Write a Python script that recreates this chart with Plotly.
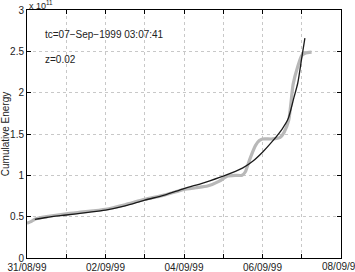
import datetime as dt
import plotly.graph_objects as go

base = dt.datetime(1999, 8, 31)

# observed cumulative energy (gray), days since 31/08/99 00:00
obs_days = [0.0, 0.1, 0.2, 0.5, 1.0, 1.5, 2.0, 2.5, 3.0, 3.5, 4.0, 4.3, 4.6, 4.9, 5.1, 5.3,
            5.48, 5.56, 5.68, 5.82, 5.92, 6.0, 6.25, 6.45, 6.55, 6.67, 6.78, 6.9, 7.0, 7.1, 7.25]
obs_vals = [0.42, 0.44, 0.47, 0.50, 0.535, 0.56, 0.59, 0.645, 0.71, 0.76, 0.83, 0.85, 0.87, 0.93, 0.99, 1.0,
            1.0, 1.04, 1.2, 1.36, 1.42, 1.44, 1.44, 1.46, 1.52, 1.67, 2.1, 2.32, 2.45, 2.48, 2.49]

# fitted power law curve (black)
fit_days = [0.2, 0.5, 1.0, 1.5, 2.0, 2.5, 3.0, 3.5, 4.0, 4.5, 5.0, 5.5, 5.75, 6.0, 6.25,
            6.5, 6.65, 6.8, 6.9, 7.0, 7.08]
fit_vals = [0.466, 0.49, 0.52, 0.55, 0.58, 0.63, 0.70, 0.76, 0.84, 0.91, 0.99, 1.09, 1.17, 1.28, 1.41,
            1.56, 1.68, 1.94, 2.12, 2.42, 2.66]

tick_days = list(range(0, 9))
tick_labels = ["31/08/99", "", "02/09/99", "", "04/09/99", "", "06/09/99", "", "08/09/99"]
y_ticks = [0, 0.5, 1, 1.5, 2, 2.5, 3]
y_labels = ["0", "0.5", "1", "1.5", "2", "2.5", "3"]

def to_dt(ds):
    return [base + dt.timedelta(days=d) for d in ds]

fig = go.Figure()
fig.add_trace(go.Scatter(x=to_dt(obs_days), y=obs_vals, mode="lines",
                         line=dict(color="#b8b8b8", width=3.2, shape="spline", smoothing=0.5),
                         showlegend=False))
fig.add_trace(go.Scatter(x=to_dt(fit_days), y=fit_vals, mode="lines",
                         line=dict(color="#1a1a1a", width=1.3, shape="spline", smoothing=0.8),
                         showlegend=False))

font = dict(family="Liberation Sans, Arial, sans-serif", size=10, color="#222")

# last x tick label drawn as annotation (it runs past the page edge, as in the reference)
shown_labels = tick_labels[:-1] + [""]

fig.update_layout(
    width=355, height=272,
    margin=dict(l=27, r=14, t=10, b=14),
    paper_bgcolor="white", plot_bgcolor="white",
    font=font,
    xaxis=dict(range=[base, base + dt.timedelta(days=8)],
               tickvals=to_dt(tick_days), ticktext=shown_labels,
               showgrid=True, gridcolor="#c8c8c8", griddash="dot", gridwidth=1,
               showline=True, linecolor="black", linewidth=1, mirror="ticks",
               ticks="inside", ticklen=4, tickcolor="black",
               zeroline=False, tickfont=font, automargin=False),
    yaxis=dict(range=[0, 3], tickvals=y_ticks, ticktext=y_labels,
               showgrid=True, gridcolor="#c8c8c8", griddash="dot", gridwidth=1,
               showline=True, linecolor="black", linewidth=1, mirror="ticks",
               ticks="inside", ticklen=4, tickcolor="black",
               zeroline=False, tickfont=font, automargin=False,
               title=dict(text="Cumulative Energy", font=font, standoff=2)),
    annotations=[
        dict(text="tc=07\u2212Sep\u22121999 03:07:41", xref="paper", yref="paper",
             x=0.05, y=0.9, xanchor="left", yanchor="middle", showarrow=False, font=font),
        dict(text="z=0.02", xref="paper", yref="paper",
             x=0.05, y=0.8, xanchor="left", yanchor="middle", showarrow=False, font=font),
        dict(text="x 10<sup>11</sup>", xref="paper", yref="paper",
             x=0.0, y=1.0, xanchor="left", yanchor="bottom", showarrow=False,
             font=dict(family="Liberation Sans, Arial, sans-serif", size=9, color="#222"),
             yshift=-3),
        dict(text=tick_labels[-1], xref="x", yref="paper",
             x=to_dt([tick_days[-1]])[0], y=0, xanchor="center", yanchor="top",
             showarrow=False, font=font, yshift=-1),
    ],
)

fig.write_html("out.html")
